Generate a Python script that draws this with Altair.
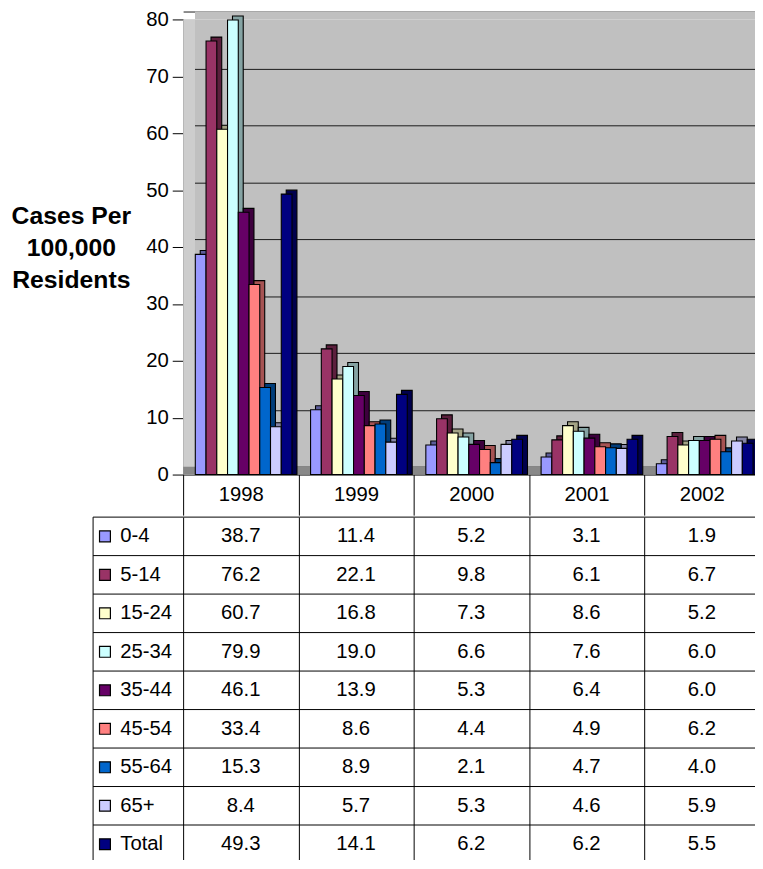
import altair as alt
import pandas as pd

# ---------------- data ----------------
years = ["1998", "1999", "2000", "2001", "2002"]
groups = ["0-4", "5-14", "15-24", "25-34", "35-44", "45-54", "55-64", "65+", "Total"]

v_0_4 = [38.7, 11.4, 5.2, 3.1, 1.9]
v_5_14 = [76.2, 22.1, 9.8, 6.1, 6.7]
v_15_24 = [60.7, 16.8, 7.3, 8.6, 5.2]
v_25_34 = [79.9, 19.0, 6.6, 7.6, 6.0]
v_35_44 = [46.1, 13.9, 5.3, 6.4, 6.0]
v_45_54 = [33.4, 8.6, 4.4, 4.9, 6.2]
v_55_64 = [15.3, 8.9, 2.1, 4.7, 4.0]
v_65 = [8.4, 5.7, 5.3, 4.6, 5.9]
v_total = [49.3, 14.1, 6.2, 6.2, 5.5]

y_ticks = [0, 10, 20, 30, 40, 50, 60, 70, 80]
y_title = ["Cases Per", "100,000", "Residents"]

# ---------------- styles ----------------
front_colors = ["#9999FF", "#993366", "#FFFFCC", "#CCFFFF", "#660066",
                "#FF8080", "#0066CC", "#CCCCFF", "#000080"]
side_colors = ["#5C5C99", "#5C1F3D", "#A3A385", "#85A3A3", "#3D003D",
               "#A65353", "#003D7A", "#8585A6", "#00004D"]

FONT = "Liberation Sans"
FS = 20.5
W = 582.5          # plot width (5 columns of 116.5)
H = 460            # plot height
STEP = W / 5
PO2 = 0.864        # outer padding of the bar group inside a column
A2 = 0.656         # alignment of the bar group inside a column
DX, DY = 5, 4      # bar depth
WX, WY = 12, 8     # wall depth
HEADER = 41
ROW = 38.9
HT = ROW * len(groups)
LABEL_COL = 91

all_values = [v_0_4, v_5_14, v_15_24, v_25_34, v_35_44, v_45_54, v_55_64, v_65, v_total]
rows = []
for g, vals in zip(groups, all_values):
    for yr, v in zip(years, vals):
        rows.append({"year": yr, "group": g, "value": v})
df = pd.DataFrame(rows)
df_groups = pd.DataFrame({"group": groups})
one = pd.DataFrame({"k": [0]})

color_scale = alt.Scale(domain=groups, range=front_colors)
x_bar_scale = alt.Scale(type="band", domain=years, paddingInner=0, paddingOuter=0)
y_scale = alt.Scale(domain=[0, 80], nice=False, zero=True)

x_axis = alt.Axis(orient="bottom", title=None, tickBand="extent", tickSize=HEADER,
                  tickColor="black", domainColor="black", labelAngle=0,
                  labelFont=FONT, labelFontSize=FS, labelColor="black",
                  labelPadding=-21, labelBaseline="middle", grid=False)

y_axis = alt.Axis(values=y_ticks, tickSize=11, tickColor="black", domainColor="black",
                  labelFont=FONT, labelFontSize=FS, labelColor="black", labelPadding=4,
                  grid=False, title=y_title, titleAngle=0, titleAlign="center",
                  titleBaseline="middle", titleX=-113.5, titleY=198,
                  titleFont=FONT, titleFontSize=25, titleFontWeight="bold",
                  titleLineHeight=32.5, titleColor="black")

# grid on the (shifted) back wall
grid_layer = alt.Chart(one).mark_rule(opacity=0).encode(
    y=alt.YDatum(0, type="quantitative",
                 scale=alt.Scale(domain=[0, 80], range=[H - WY, -WY], nice=False),
                 axis=alt.Axis(orient="right", values=y_ticks, labels=False, ticks=False,
                               domain=False, grid=True, gridColor="#1a1a1a",
                               gridWidth=1, title=None))
)

top_strip = alt.Chart(one).mark_rect(fill="#C0C0C0").encode(
    x=alt.value(WX), x2=alt.value(W), y=alt.value(-WY), y2=alt.value(0))
side_wall = alt.Chart(one).mark_rect(fill="#CDCDCD").encode(
    x=alt.value(0), x2=alt.value(WX), y=alt.value(0), y2=alt.value(H))
floor = alt.Chart(one).mark_rect(fill="#888888").encode(
    x=alt.value(0), x2=alt.value(W), y=alt.value(H - WY), y2=alt.value(H))

depth = alt.Chart(df).mark_bar(stroke="black", strokeWidth=1.1, yOffset=-DY,
                               y2Offset=-DY).encode(
    x=alt.X("year:N", scale=x_bar_scale, axis=x_axis),
    xOffset=alt.XOffset("group:N", sort=groups,
                        scale=alt.Scale(domain=groups, range=[DX, STEP + DX],
                                        paddingInner=0, paddingOuter=PO2, align=A2)),
    y=alt.Y("value:Q", scale=y_scale, stack=None, axis=None),
    fill=alt.Fill("group:N", scale=alt.Scale(domain=groups, range=side_colors),
                  legend=None),
)

front = alt.Chart(df).mark_bar(stroke="black", strokeWidth=1.1).encode(
    x=alt.X("year:N", scale=x_bar_scale, axis=x_axis),
    xOffset=alt.XOffset("group:N", sort=groups,
                        scale=alt.Scale(domain=groups, paddingInner=0,
                                        paddingOuter=PO2, align=A2)),
    y=alt.Y("value:Q", scale=y_scale, stack=None, axis=y_axis),
    color=alt.Color("group:N", scale=color_scale, legend=None),
)

bars = alt.layer(grid_layer, top_strip, side_wall, floor, depth, front).resolve_scale(
    y="independent", xOffset="independent"
).properties(width=W, height=H,
             view=alt.ViewBackground(fill="#C0C0C0", strokeWidth=0))

# ---------------- data table ----------------
x_tab = alt.Scale(type="band", domain=years, paddingInner=0, paddingOuter=0)
y_tab = alt.Scale(type="band", domain=groups, paddingInner=0, paddingOuter=0)
x_tab_axis = alt.Axis(orient="top", labels=False, ticks=False, domain=False,
                      grid=True, gridColor="black", gridOpacity=1,
                      tickBand="extent", title=None)
y_tab_axis = alt.Axis(labelAlign="left", labelPadding=64, ticks=False,
                      domain=False, grid=False, labelFont=FONT,
                      labelFontSize=FS, labelColor="black",
                      labelBaseline="middle", title=None)

cells = alt.Chart(df).mark_text(font=FONT, fontSize=FS, color="black",
                                align="center", baseline="middle").encode(
    x=alt.X("year:N", scale=x_tab, axis=x_tab_axis),
    y=alt.Y("group:N", scale=y_tab, sort=groups, axis=y_tab_axis),
    text=alt.Text("value:Q", format=".1f"),
)

row_lines = alt.Chart(df_groups).mark_rule(color="black", strokeWidth=1).encode(
    y=alt.Y("group:N", scale=y_tab, sort=groups, bandPosition=0, axis=y_tab_axis),
    x=alt.value(-LABEL_COL), x2=alt.value(W),
)

left_border = alt.Chart(one).mark_rule(color="black", strokeWidth=1).encode(
    x=alt.value(-LABEL_COL), y=alt.value(0), y2=alt.value(HT))

swatches = alt.Chart(df_groups).mark_square(size=121, stroke="black",
                                            strokeWidth=1.2, opacity=1).encode(
    x=alt.value(-79),
    y=alt.Y("group:N", scale=y_tab, sort=groups, axis=y_tab_axis),
    color=alt.Color("group:N", scale=color_scale, legend=None),
)

table = alt.layer(cells, row_lines, left_border, swatches).properties(
    width=W, height=HT, view=alt.ViewBackground(fill="white", strokeWidth=0))

chart = alt.vconcat(bars, table, spacing=0).properties(
    padding={"left": 3, "top": -3, "right": -5.5, "bottom": -9},
    background="white",
).configure(font=FONT)

chart.save("out.html", embed_options={"renderer": "svg", "actions": False})
